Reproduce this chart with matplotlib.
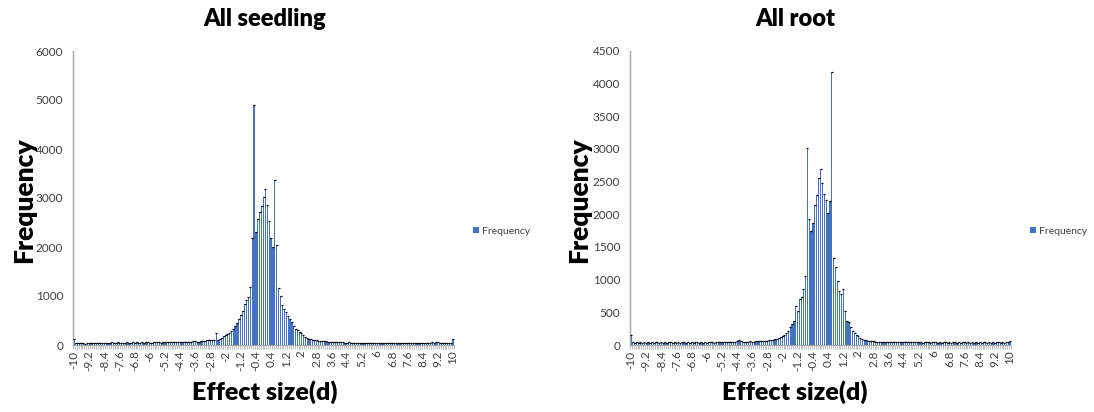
import numpy as np
import matplotlib.pyplot as plt
from matplotlib.ticker import FixedLocator, NullFormatter

plt.rcParams['font.family'] = ['Lato', 'DejaVu Sans']

# bin centres -10 .. 10 in steps of 0.1 (category axis)
bins = np.round(np.linspace(-10, 10, 201), 1)

tick_labels = ['-10', '-9.2', '-8.4', '-7.6', '-6.8', '-6', '-5.2', '-4.4', '-3.6',
               '-2.8', '-2', '-1.2', '-0.4', '0.4', '1.2', '2', '2.8', '3.6', '4.4',
               '5.2', '6', '6.8', '7.6', '8.4', '9.2', '10']

seedling = [
    125, 40, 35, 45, 38, 42, 30, 36, 40, 33,        # -10.0 .. -9.1
    38, 42, 35, 40, 44, 38, 36, 48, 40, 45,         # -9.0 .. -8.1
    52, 47, 43, 55, 50, 46, 42, 48, 53, 45,         # -8.0 .. -7.1
    50, 55, 48, 52, 46, 50, 55, 49, 53, 58,         # -7.0 .. -6.1
    50, 47, 55, 60, 52, 56, 50, 58, 62, 55,         # -6.0 .. -5.1
    52, 60, 57, 63, 55, 60, 58, 62, 66, 58,         # -5.0 .. -4.1
    63, 68, 62, 72, 80, 70, 66, 75, 85, 90,         # -4.0 .. -3.1
    95, 100, 105, 98, 110, 250, 110, 130, 145, 185,  # -3.0 .. -2.1
    210, 225, 250, 280, 320, 380, 450, 530, 610, 700,  # -2.0 .. -1.1
    830, 910, 970, 1190, 2180, 4900, 2300, 2580, 2720, 2830,  # -1.0 .. -0.1
    3030, 3180, 2850, 2530, 2180, 1990, 3360, 2040, 1170, 1000,  # 0.0 .. 0.9
    810, 740, 680, 600, 530, 460, 390, 330, 300, 260,  # 1.0 .. 1.9
    235, 195, 165, 145, 128, 115, 106, 100, 95, 90,  # 2.0 .. 2.9
    85, 80, 78, 72, 70, 66, 62, 60, 58, 55,         # 3.0 .. 3.9
    60, 52, 55, 50, 48, 53, 47, 50, 45, 48,         # 4.0 .. 4.9
    46, 50, 44, 48, 42, 47, 45, 43, 48, 44,         # 5.0 .. 5.9
    42, 46, 40, 45, 43, 38, 44, 41, 39, 43,         # 6.0 .. 6.9
    40, 44, 38, 42, 36, 40, 43, 37, 41, 39,         # 7.0 .. 7.9
    36, 40, 44, 38, 42, 50, 45, 40, 46, 52,         # 8.0 .. 8.9
    48, 55, 62, 50, 45, 42, 38, 44, 40, 45,         # 9.0 .. 9.9
    130,                                            # 10.0
]

root = [
    160, 40, 38, 42, 36, 40, 38, 41, 37, 40,        # -10.0 .. -9.1
    38, 42, 36, 40, 39, 37, 41, 38, 40, 36,         # -9.0 .. -8.1
    39, 42, 37, 40, 38, 41, 36, 39, 42, 38,         # -8.0 .. -7.1
    40, 37, 41, 38, 42, 39, 36, 40, 38, 41,         # -7.0 .. -6.1
    38, 42, 39, 41, 37, 40, 43, 39, 42, 44,         # -6.0 .. -5.1
    40, 45, 42, 48, 46, 52, 58, 80, 55, 50,         # -5.0 .. -4.1
    48, 52, 50, 55, 53, 50, 56, 54, 58, 60,         # -4.0 .. -3.1
    60, 62, 66, 70, 75, 80, 88, 95, 105, 120,       # -3.0 .. -2.1
    145, 160, 185, 220, 270, 320, 370, 600, 525, 700,  # -2.0 .. -1.1
    740, 860, 1050, 3010, 1930, 1740, 1870, 2140, 2300, 2560,  # -1.0 .. -0.1
    2700, 2480, 2310, 2220, 2020, 2210, 4180, 1330, 1190, 985,  # 0.0 .. 0.9
    830, 780, 850, 525, 360, 345, 270, 220, 185, 158,  # 1.0 .. 1.9
    133, 107, 92, 80, 72, 65, 60, 57, 54, 52,       # 2.0 .. 2.9
    50, 48, 52, 47, 50, 46, 49, 45, 48, 44,         # 3.0 .. 3.9
    46, 43, 47, 44, 42, 45, 41, 44, 40, 43,         # 4.0 .. 4.9
    41, 39, 42, 40, 38, 41, 39, 42, 38, 40,         # 5.0 .. 5.9
    39, 41, 38, 40, 37, 41, 39, 38, 40, 37,         # 6.0 .. 6.9
    39, 41, 38, 40, 36, 39, 41, 38, 40, 37,         # 7.0 .. 7.9
    39, 36, 40, 38, 41, 37, 39, 42, 38, 40,         # 8.0 .. 8.9
    37, 40, 38, 41, 39, 36, 40, 38, 42, 40,         # 9.0 .. 9.9
    55,                                             # 10.0
]

BLUE = '#4472C4'
AXIS_GREY = '#A6A6A6'
TEXT_GREY = '#404040'

W, H = 1094, 412
fig = plt.figure(figsize=(W / 100, H / 100), dpi=100)


def draw(rect, values, ymax, title, title_x, ylab_x, leg_x):
    ax = fig.add_axes(rect)
    x = np.arange(len(bins))
    ax.bar(x, values, width=0.62, color=BLUE, label='Frequency', zorder=2,
           linewidth=0)
    ax.plot(x, values, linestyle='none', marker='_', color='black',
            markersize=1.6, markeredgewidth=0.9, zorder=3)
    ax.set_xlim(-0.5, len(bins) - 0.5)
    ax.set_ylim(0, ymax)
    ax.set_yticks(np.arange(0, ymax + 1, 1000 if ymax == 6000 else 500))
    ax.tick_params(axis='y', length=0, labelsize=8.5, labelcolor=TEXT_GREY, pad=7)

    # category labels every 8 bins, tick marks at every bin boundary
    lab_pos = x[::8]
    ax.set_xticks(lab_pos)
    ax.set_xticklabels(tick_labels, rotation=90, fontsize=8.5, color=TEXT_GREY)
    ax.tick_params(axis='x', which='major', length=0, pad=4)
    ax.xaxis.set_minor_locator(FixedLocator(np.arange(-0.5, len(bins), 1)))
    ax.xaxis.set_minor_formatter(NullFormatter())
    ax.tick_params(axis='x', which='minor', length=3, width=0.5, color=AXIS_GREY)

    for s in ['top', 'right']:
        ax.spines[s].set_visible(False)
    ax.spines['left'].set_color(AXIS_GREY)
    ax.spines['bottom'].set_color(AXIS_GREY)
    ax.spines['left'].set_linewidth(1.0)
    ax.spines['bottom'].set_linewidth(0.8)

    fig.text(title_x / W, 1 - 19 / H, title, ha='center', va='center',
             fontsize=17, fontweight='heavy')
    fig.text(title_x / W, 1 - 392 / H, 'Effect size(d)', ha='center', va='center',
             fontsize=18, fontweight='heavy')
    fig.text(ylab_x / W, 1 - 200 / H, 'Frequency', ha='center', va='center',
             rotation=90, fontsize=19, fontweight='heavy')
    fig.legend(handles=[ax.patches[0]], labels=['Frequency'], loc='center left',
               bbox_to_anchor=(leg_x / W, 1 - 231 / H), frameon=False,
               fontsize=7.5, handlelength=0.6, handleheight=0.6, handletextpad=0.3,
               borderaxespad=0, borderpad=0, labelcolor=TEXT_GREY)
    return ax


top, bottom = 51, 345
draw([73 / W, 1 - bottom / H, 381 / W, (bottom - top) / H], seedling, 6000,
     'All seedling', 265, 24, 473)
draw([630 / W, 1 - bottom / H, 381 / W, (bottom - top) / H], root, 4500,
     'All root', 795, 579, 1030)

fig.savefig('out.png', dpi=100)
